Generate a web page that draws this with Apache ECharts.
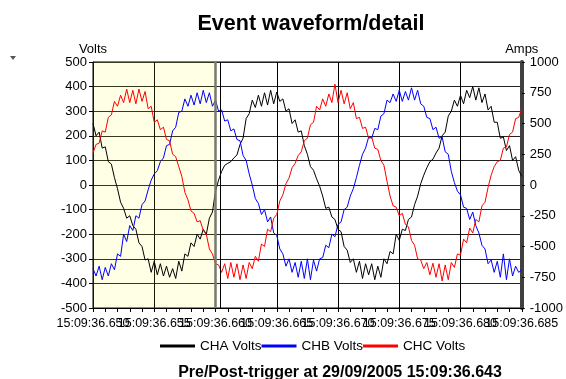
<!DOCTYPE html>
<html>
<head>
<meta charset="utf-8">
<script src="https://cdn.jsdelivr.net/npm/echarts@6/dist/echarts.min.js"></script>
<style>
  html, body { margin: 0; padding: 0; background: #fff; }
  #chart { width: 566px; height: 379px; }
</style>
</head>
<body>
<div id="chart"></div>
<script>
// samples every 0.25 ms, starting at 15:09:36.650
const sampleMs = 0.25;
const xTickLabels = ['15:09:36.650', '15:09:36.655', '15:09:36.660', '15:09:36.665',
  '15:09:36.670', '15:09:36.675', '15:09:36.680', '15:09:36.685'];
const seriesNames = ['CHA Volts', 'CHB Volts', 'CHC Volts'];

const cha = [
  250, 200, 215, 150, 155, 95, 85, 30, -15, -70,
  -95, -135, -125, -165, -180, -235, -250, -305, -300, -355,
  -310, -365, -320, -370, -330, -375, -340, -380, -310, -350,
  -280, -290, -235, -250, -200, -220, -180, -200, -135, -110,
  -25, 20, 55, 80, 88, 95, 110, 122, 165, 190,
  270, 290, 345, 315, 365, 320, 375, 325, 385, 330,
  378, 340, 350, 300, 310, 250, 265, 215, 220, 160,
  125, 75, 60, 25, -5, -45, -95, -90, -130, -140,
  -180, -190, -250, -265, -315, -300, -355, -310, -380, -320,
  -365, -320, -385, -330, -375, -300, -320, -270, -280, -200,
  -225, -180, -185, -140, -130, -80, -45, 5, 40, 70,
  95, 105, 130, 150, 200, 215, 280, 300, 345, 320,
  365, 330, 385, 355, 400, 345, 395, 335, 370, 305,
  320, 255, 255, 190, 195, 140, 160, 100, 115, 60,
  35
];
const chb = [
  -340, -370, -330, -385, -335, -370, -320, -345, -280, -290,
  -200, -230, -165, -185, -125, -135, -80, -65, -20, 20,
  45, 58, 95, 110, 160, 165, 220, 235, 295, 300,
  350, 320, 365, 325, 375, 330, 385, 335, 375, 320,
  345, 300, 305, 260, 265, 220, 228, 185, 180, 120,
  100, 45, 0, -55, -75, -120, -100, -150, -130, -195,
  -205, -260, -280, -330, -300, -355, -315, -375, -310, -380,
  -300, -385, -305, -350, -300, -295, -245, -255, -200, -210,
  -160, -150, -100, -90, -45, -15, 30, 80, 125, 150,
  195, 190, 230, 225, 280, 290, 345, 335, 370, 340,
  385, 340, 380, 345, 395, 345, 385, 330, 320, 275,
  270, 225, 235, 190, 195, 135, 125, 55, 10, -25,
  -40, -90, -95, -140, -110, -165, -195, -245, -260, -320,
  -305, -355, -310, -375, -280, -385, -300, -370, -330, -355,
  -345
];
const chc = [
  130, 165, 170, 220, 215, 275, 285, 340, 320, 365,
  335, 390, 335, 385, 330, 390, 340, 380, 310, 320,
  255, 265, 225, 235, 185, 180, 125, 115, 75, 35,
  -30, -60, -105, -115, -150, -145, -185, -200, -260, -280,
  -320, -325, -355, -320, -380, -315, -375, -320, -385, -325,
  -380, -315, -340, -290, -310, -240, -250, -180, -190, -135,
  -120, -65, -40, 5, 28, 70, 88, 120, 135, 180,
  190, 245, 255, 320, 305, 350, 320, 370, 335, 410,
  335, 385, 330, 375, 310, 335, 270, 275, 230, 235,
  190, 195, 150, 145, 100, 80, 15, -45, -85, -90,
  -125, -115, -160, -170, -225, -245, -300, -305, -340, -315,
  -365, -318, -375, -320, -390, -325, -385, -315, -335, -280,
  -285, -220, -235, -175, -195, -140, -150, -85, -70, -10,
  40, 75, 95, 100, 150, 155, 205, 215, 270, 275,
  310
];
// pre-trigger shading and trigger marks, ms from 36.650
const preTriggerEnd = 10;
const triggerMarks = [10, 10.35];

const font = 'Liberation Sans, Arial, sans-serif';
const toPairs = arr => arr.map((v, i) => [i * sampleMs, v]);

const lineSeries = (name, data, color) => ({
  name: name,
  type: 'line',
  data: toPairs(data),
  showSymbol: false,
  symbol: 'none',
  animation: false,
  lineStyle: { color: color, width: 1 },
  itemStyle: { color: color },
  z: 3
});

// labels overlap in the original, so they are split over two bottom axes
// (echarts would otherwise drop the ones next to min / max)
const labelAxis = parity => ({
  type: 'value',
  min: 0,
  max: 35,
  interval: 5,
  position: 'bottom',
  axisLine: { show: parity === 0, onZero: false, lineStyle: { color: '#000', width: 1 } },
  axisTick: { show: parity === 0, length: 4, lineStyle: { color: '#000' } },
  minorTick: { show: parity === 0, splitNumber: 5, length: 4, lineStyle: { color: '#000' } },
  splitLine: { show: parity === 0, lineStyle: { color: '#000', width: 1 } },
  axisLabel: {
    fontSize: 12.5,
    color: '#000',
    margin: 9,
    formatter: v => {
      const i = Math.round(v / 5);
      return i % 2 === parity ? xTickLabels[i] : '';
    }
  }
});

const chart = echarts.init(document.getElementById('chart'));
const option = {
  backgroundColor: '#fff',
  animation: false,
  textStyle: { fontFamily: font },
  graphic: [
    {
      type: 'text', x: 311, y: 13,
      style: { text: 'Event waveform/detail', font: 'bold 21.5px ' + font, fill: '#000', align: 'center', verticalAlign: 'top' }
    },
    {
      type: 'text', x: 340, y: 365,
      style: { text: 'Pre/Post-trigger at 29/09/2005 15:09:36.643', font: 'bold 16px ' + font, fill: '#000', align: 'center', verticalAlign: 'top' }
    },
    {
      type: 'polygon',
      shape: { points: [[10, 56], [16, 56], [13, 60]] },
      style: { fill: '#555' }
    }
  ],
  legend: {
    data: seriesNames,
    left: 155,
    top: 334,
    itemGap: 0,
    itemWidth: 35,
    itemHeight: 3,
    icon: 'rect',
    textStyle: { fontSize: 13.5, color: '#000', fontFamily: font }
  },
  grid: {
    left: 93,
    right: 38,
    top: 62,
    bottom: 71,
    show: true,
    borderColor: '#000',
    borderWidth: 1,
    backgroundColor: 'transparent'
  },
  xAxis: [labelAxis(0), labelAxis(1)],
  yAxis: [
    {
      type: 'value',
      min: -500,
      max: 500,
      interval: 100,
      position: 'left',
      name: 'Volts',
      nameLocation: 'end',
      nameGap: 5,
      nameTextStyle: { fontSize: 13, color: '#000', align: 'center' },
      axisLine: { show: true, onZero: false, lineStyle: { color: '#000', width: 1 } },
      axisTick: { show: true, length: 4, lineStyle: { color: '#000' } },
      splitLine: { show: true, lineStyle: { color: '#222', width: 1 } },
      axisLabel: { fontSize: 13, color: '#000', margin: 6 }
    },
    {
      type: 'value',
      min: -1000,
      max: 1000,
      interval: 250,
      position: 'right',
      name: 'Amps',
      nameLocation: 'end',
      nameGap: 5,
      nameTextStyle: { fontSize: 13, color: '#000', align: 'center' },
      axisLine: { show: true, onZero: false, lineStyle: { color: '#404040', width: 4 } },
      axisTick: { show: true, length: 3, lineStyle: { color: '#000' } },
      splitLine: { show: false },
      axisLabel: { fontSize: 13, color: '#000', margin: 8, formatter: v => String(v) }
    }
  ],
  series: [
    {
      name: 'trigger',
      type: 'line',
      data: [],
      silent: true,
      z: 1,
      markArea: {
        silent: true,
        itemStyle: { color: 'rgba(255,255,0,0.1)' },
        data: [[{ xAxis: 0 }, { xAxis: preTriggerEnd }]]
      },
      markLine: {
        silent: true,
        symbol: 'none',
        label: { show: false },
        data: [
          { xAxis: triggerMarks[0], lineStyle: { color: '#7a7a6a', width: 2.5, type: 'solid' } },
          { xAxis: triggerMarks[1], lineStyle: { color: '#000', width: 1, type: 'solid' } }
        ]
      }
    },
    lineSeries(seriesNames[0], cha, '#000'),
    lineSeries(seriesNames[1], chb, '#0000ff'),
    lineSeries(seriesNames[2], chc, '#ff0000')
  ]
};
chart.setOption(option);
</script>
</body>
</html>
